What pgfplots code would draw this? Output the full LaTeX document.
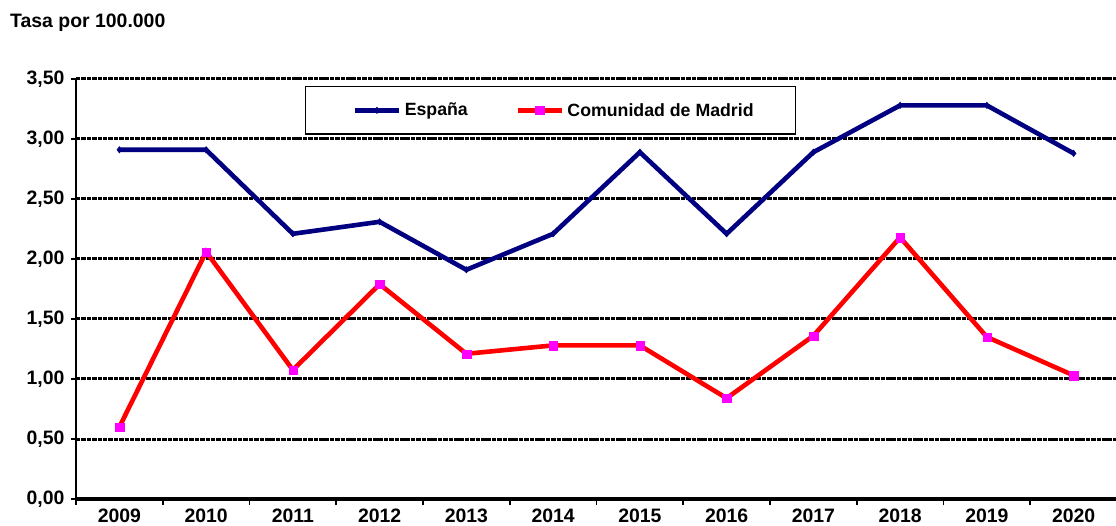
\documentclass[border=0pt]{standalone}
\usepackage{fontspec}
\setmainfont{Liberation Sans}
\usepackage{pgfplots}
\pgfplotsset{compat=1.18}
\definecolor{navyline}{RGB}{0,0,128}
\definecolor{mag}{RGB}{255,0,255}
\begin{document}
\begin{tikzpicture}
\begin{axis}[
  at={(0,0)}, anchor=south west,
  scale only axis, width=1041bp, height=420bp,
  xmin=-0.5, xmax=11.5, ymin=0, ymax=3.5,
  axis x line=bottom, axis y line=left,
  axis line style={-, black},
  x axis line style={line width=3.2bp},
  y axis line style={line width=1.8bp},
  xtick={0,...,11},
  xticklabels={2009,2010,2011,2012,2013,2014,2015,2016,2017,2018,2019,2020},
  major x tick style={draw=none},
  minor xtick={-0.5,0.5,...,10.5},
  minor x tick style={line width=1.8bp, black},
  minor tick length=6bp,
  ytick={0,0.5,...,3.5},
  y tick style={line width=1.8bp, black},
  major tick length=5bp,
  tick align=outside,
  ymajorgrids,
  major grid style={black, line width=3bp, dash pattern=on 4.5bp off 0.9bp},
  yticklabel style={/pgf/number format/fixed, /pgf/number format/fixed zerofill, /pgf/number format/precision=2, /pgf/number format/use comma, /pgf/number format/assume math mode=true, xshift=-3bp},
  ticklabel style={font=\fontsize{19.5}{21}\selectfont\bfseries},
  xticklabel style={yshift=-1bp},
  clip=false,
  legend columns=2,
  legend style={at={(rel axis cs:0.22,0.9833)}, anchor=north west, draw=black, line width=1.3bp,
    inner xsep=38bp, inner ysep=13bp, font=\fontsize{17.8}{19}\selectfont\bfseries,
    nodes={inner sep=3.5bp}, /tikz/every even column/.append style={column sep=35bp}},
  legend image code/.code={\path (0bp,0bp); \draw[mark repeat=2,mark phase=2,#1] plot coordinates {(9bp,0bp) (31bp,0bp) (53bp,0bp)};},
]
\addplot[navyline, line width=4.6bp, mark=diamond*, mark size=3bp, mark options={solid, line width=0.8bp}] coordinates {
(0,2.91) (1,2.91) (2,2.21) (3,2.31) (4,1.91) (5,2.21) (6,2.89) (7,2.21) (8,2.89) (9,3.28) (10,3.28) (11,2.88)};
\addlegendentry{España}
\addplot[red, line width=4.6bp, mark=square*, mark size=4.2bp, mark options={solid, fill=mag, draw=mag, line width=0.1bp}] coordinates {
(0,0.60) (1,2.06) (2,1.075) (3,1.79) (4,1.21) (5,1.28) (6,1.28) (7,0.84) (8,1.36) (9,2.18) (10,1.35) (11,1.03)};
\addlegendentry{Comunidad de Madrid}
\end{axis}
\node[anchor=west, inner sep=0pt, font=\fontsize{19.5}{21}\selectfont\bfseries] at (-66bp,476bp) {Tasa por 100.000};
\pgfresetboundingbox
\useasboundingbox (-76bp,-27bp) rectangle (1040bp,499bp);
\end{tikzpicture}
\end{document}
